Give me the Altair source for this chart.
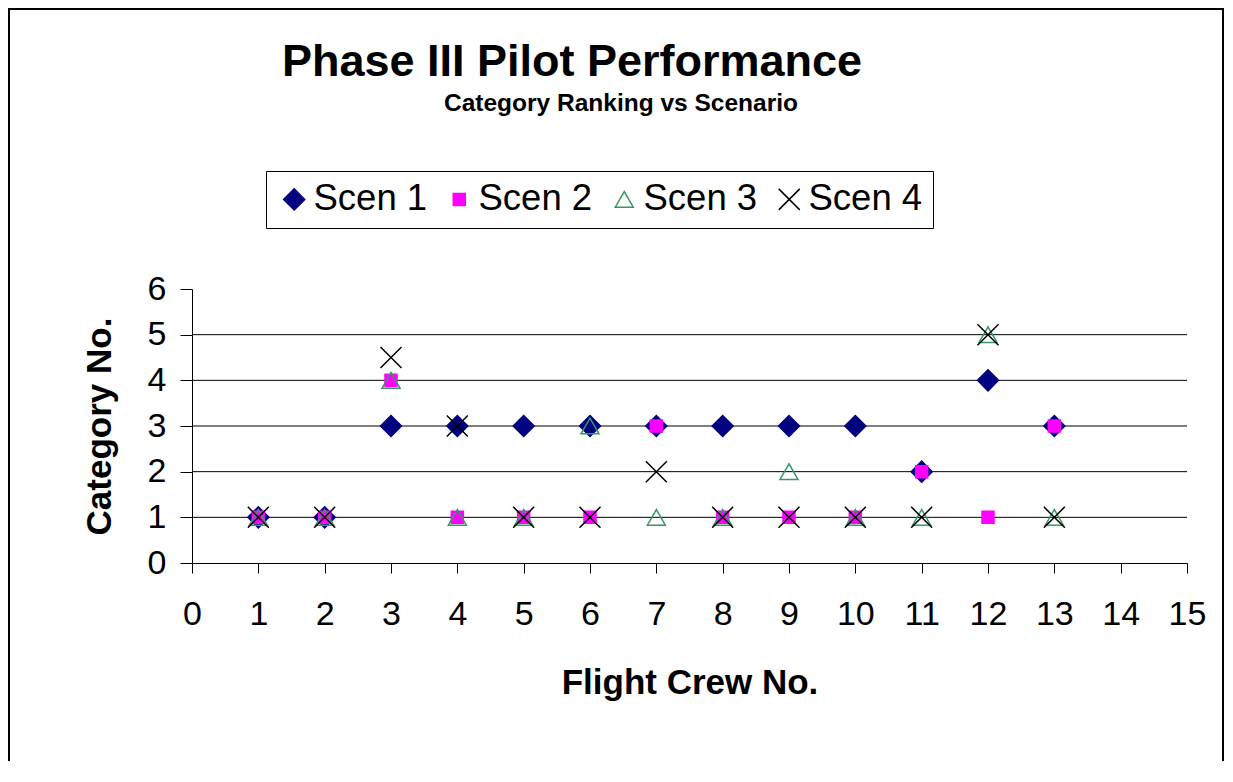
import altair as alt
import pandas as pd

# ---- data ----
crews = list(range(1, 14))
scen1 = [1, 1, 3, 3, 3, 3, 3, 3, 3, 3, 2, 4, 3]
scen2 = [1, 1, 4, 1, 1, 1, 3, 1, 1, 1, 2, 1, 3]
scen3 = [1, 1, 4, 1, 1, 3, 1, 1, 2, 1, 1, 5, 1]
scen4 = [1, 1, 4.5, 3, 1, 1, 2, 1, 1, 1, 1, 5, 1]
series_names = ["Scen 1", "Scen 2", "Scen 3", "Scen 4"]
x_ticks = list(range(0, 16))
y_ticks = list(range(0, 7))
grid_values = [1, 2, 3, 4, 5]
title_text = "Phase III Pilot Performance"
subtitle_text = "Category Ranking vs Scenario"

rows = []
for name, vals in zip(series_names, [scen1, scen2, scen3, scen4]):
    for c, v in zip(crews, vals):
        rows.append({"crew": c, "category": v, "series": name})
df = pd.DataFrame(rows)

FONT = "Liberation Sans"
W, H = 995, 274
PL, PT, PR, PB = 184, 281, 38, 198

shapes = ["diamond", "square", "triangle-up", "M-1,-1L1,1M1,-1L-1,1"]
strokes = ["#000080", "#FF00FF", "#339966", "#000000"]
fills = ["#000080", "#FF00FF", "transparent", "transparent"]
sizes = [441, 144, 324, 441]

xscale = alt.Scale(domain=[0, 15], nice=False, zero=False)
yscale = alt.Scale(domain=[0, 6], nice=False)

xaxis = alt.Axis(values=x_ticks, format="d", labelFontSize=34, labelFont=FONT,
                 labelColor="black", tickSize=10, tickColor="black", domainColor="black",
                 labelPadding=24, title="Flight Crew No.", titleFontSize=35, titleFont=FONT,
                 titleFontWeight="bold", titleColor="black", titlePadding=34, grid=False,
                 labelFlush=False, labelOverlap=False, tickWidth=1, domainWidth=1)
yaxis = alt.Axis(values=y_ticks, format="d", labelFontSize=34, labelFont=FONT,
                 labelColor="black", tickSize=12, tickColor="black", domainColor="black",
                 labelPadding=14, title="Category No.", titleFontSize=35, titleFont=FONT,
                 titleFontWeight="bold", titleColor="black", titlePadding=30, grid=False,
                 labelOverlap=False, tickWidth=1, domainWidth=1)

leg = alt.Legend(
    orient="none", legendX=74, legendY=-118, direction="horizontal", title=None,
    labelFontSize=36.5, labelFont=FONT, labelColor="black", strokeColor="black",
    fillColor="white", padding=10, symbolStrokeWidth=1.5, columnPadding=13,
    labelOffset=1, symbolOffset=0,
)

frame = alt.Chart(alt.Data(values=[{"f": 1}])).mark_rect(
    fill="transparent", stroke="black", strokeWidth=2
).encode(x=alt.value(-PL + 1), x2=alt.value(W + PR - 2),
         y=alt.value(-PT + 1), y2=alt.value(H + PB + 30))

grid = alt.Chart(pd.DataFrame({"g": grid_values})).mark_rule(
    color="#000000", strokeWidth=1
).encode(y=alt.Y("g:Q", scale=yscale, axis=yaxis), x=alt.value(0), x2=alt.value(W))

pts = alt.Chart(df).mark_point(filled=False, strokeWidth=1.5, opacity=1).encode(
    x=alt.X("crew:Q", scale=xscale, axis=xaxis),
    y=alt.Y("category:Q", scale=yscale, axis=yaxis),
    shape=alt.Shape("series:N", scale=alt.Scale(domain=series_names, range=shapes), legend=leg),
    stroke=alt.Stroke("series:N", scale=alt.Scale(domain=series_names, range=strokes), legend=leg),
    fill=alt.Fill("series:N", scale=alt.Scale(domain=series_names, range=fills), legend=leg),
    size=alt.Size("series:N", scale=alt.Scale(type="ordinal", domain=series_names, range=sizes),
                  legend=leg),
)

title = alt.Chart(alt.Data(values=[{"t": title_text}])).mark_text(
    font=FONT, fontSize=45, fontWeight="bold", align="center", baseline="alphabetic", color="black"
).encode(text="t:N", x=alt.value(380), y=alt.value(-213))

subtitle = alt.Chart(alt.Data(values=[{"t": subtitle_text}])).mark_text(
    font=FONT, fontSize=24.5, fontWeight="bold", align="center", baseline="alphabetic", color="black"
).encode(text="t:N", x=alt.value(429), y=alt.value(-178))

chart = alt.layer(frame, grid, pts, title, subtitle).properties(
    width=W, height=H,
    autosize=alt.AutoSizeParams(type="none"),
    padding={"left": PL, "top": PT, "right": PR, "bottom": PB},
    background="white",
).configure_view(stroke=None)

chart.save("out.html", embed_options={"renderer": "svg", "actions": False})
